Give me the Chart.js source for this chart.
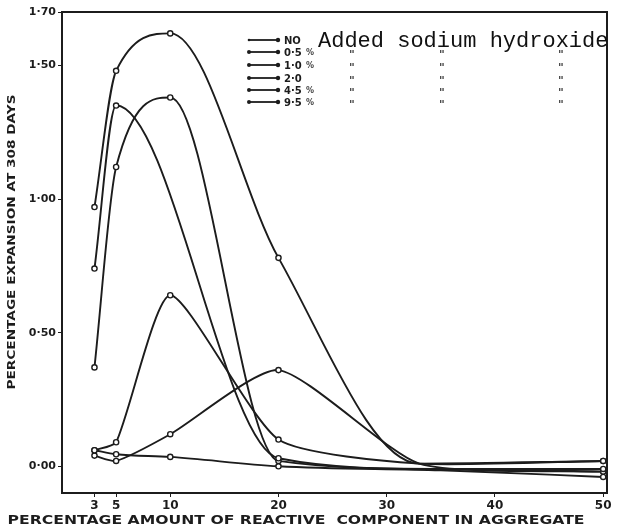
<!DOCTYPE html>
<html>
<head>
<meta charset="utf-8">
<script src="https://cdn.jsdelivr.net/npm/chart.js@4"></script>
<style>
html, body { margin: 0; padding: 0; background: #fff; }
#wrap { width: 622px; height: 530px; }
</style>
</head>
<body>
<div id="wrap"><canvas id="chart" width="622" height="530"></canvas></div>
<script>
// values
const xTicks = [3, 5, 10, 20, 30, 40, 50];
const yTicks = [0, 0.5, 1.0, 1.5, 1.7];
const yTickLabels = ['0·00', '0·50', '1·00', '1·50', '1·70'];
const measuredX = [3, 5, 10, 20, 50];

const seriesNames = ['NO', '0·5', '1·0', '2·0', '4·5', '9·5'];

const xNone = [3, 5, 10, 20, 35, 50];
const yNone = [0.06, 0.045, 0.035, 0.0, -0.015, -0.04];

const xHalf = [3, 5, 10, 20, 33, 50];
const yHalf = [0.06, 0.09, 0.64, 0.10, 0.01, 0.02];

const xOne = [3, 5, 20, 35, 50];
const yOne = [0.74, 1.35, 0.03, -0.01, -0.01];

const xTwo = [3, 5, 10, 20, 35, 50];
const yTwo = [0.37, 1.12, 1.38, 0.02, -0.01, -0.02];

const xFour = [3, 5, 10, 20, 33, 50];
const yFour = [0.97, 1.48, 1.62, 0.78, 0.01, 0.02];

const xNine = [3, 5, 10, 20, 33, 50];
const yNine = [0.04, 0.02, 0.12, 0.36, 0.01, -0.02];

const ink = '#1c1c1c';

function pts(xs, ys) {
    return xs.map((x, i) => ({ x: x, y: ys[i] }));
}

function series(label, xs, ys, smooth) {
    return {
        label: label,
        data: pts(xs, ys),
        borderColor: ink,
        borderWidth: 1.9,
        backgroundColor: '#fff',
        pointBackgroundColor: '#fff',
        pointBorderColor: ink,
        pointBorderWidth: 1.4,
        pointRadius: ctx => measuredX.includes(ctx.raw.x) ? 2.6 : 0,
        tension: smooth ? 0.4 : 0.2,
        cubicInterpolationMode: smooth ? 'monotone' : 'default',
        fill: false
    };
}

function fitText(ctx, text, x, y, width, font, rot) {
    ctx.save();
    ctx.font = font;
    ctx.translate(x, y);
    if (rot) ctx.rotate(rot);
    const w = ctx.measureText(text).width;
    ctx.scale(width / w, 1);
    ctx.textAlign = 'center';
    ctx.textBaseline = 'middle';
    ctx.fillText(text, 0, 0);
    ctx.restore();
}

const paperPlugin = {
    id: 'paper',
    afterDraw(chart) {
        const ctx = chart.ctx;
        const a = chart.chartArea;
        ctx.save();
        ctx.strokeStyle = ink;
        ctx.fillStyle = ink;
        ctx.lineWidth = 2;
        ctx.strokeRect(a.left, a.top, a.right - a.left, a.bottom - a.top);

        // axis titles
        fitText(ctx, 'PERCENTAGE AMOUNT OF REACTIVE  COMPONENT IN AGGREGATE', 296, 521, 577, 'bold 12px "DejaVu Sans"');
        fitText(ctx, 'PERCENTAGE EXPANSION AT 308 DAYS', 12, 242, 295, 'bold 10px "DejaVu Sans"', -Math.PI / 2);

        // legend key
        const rows = [40, 52, 65, 78, 90, 102];
        ctx.lineWidth = 1.8;
        rows.forEach((y, i) => {
            ctx.beginPath();
            ctx.moveTo(249, y);
            ctx.lineTo(278, y);
            ctx.stroke();
            ctx.beginPath();
            ctx.arc(249, y, i === 0 ? 1.3 : 2, 0, Math.PI * 2);
            ctx.fill();
            ctx.beginPath();
            ctx.arc(278, y, 2.2, 0, Math.PI * 2);
            ctx.fill();
            ctx.font = 'bold 10px "DejaVu Sans"';
            ctx.textAlign = 'left';
            ctx.textBaseline = 'middle';
            ctx.fillText(seriesNames[i], 284, y + 1);
            if (i > 0) {
                ctx.fillStyle = '#444';
                ctx.font = 'bold 8px "DejaVu Sans"';
                if (i !== 3) ctx.fillText('%', 306, y + 1);
                ctx.font = 'bold 11px "DejaVu Sans"';
                [349, 439, 558].forEach(cx => ctx.fillText('"', cx, y + 3));
                ctx.fillStyle = ink;
            }
        });
        ctx.font = '22px "Liberation Mono"';
        ctx.textAlign = 'left';
        ctx.textBaseline = 'alphabetic';
        ctx.fillStyle = '#111';
        ctx.fillText('Added sodium hydroxide', 318, 47);
        ctx.restore();
    }
};

new Chart(document.getElementById('chart'), {
    type: 'line',
    data: {
        datasets: [
            series(seriesNames[0], xNone, yNone, true),
            series(seriesNames[1], xHalf, yHalf, false),
            series(seriesNames[2], xOne, yOne, true),
            series(seriesNames[3], xTwo, yTwo, true),
            series(seriesNames[4], xFour, yFour, true),
            series(seriesNames[5], xNine, yNine, false)
        ]
    },
    options: {
        responsive: false,
        animation: false,
        layout: { padding: { left: 0, right: 15, top: 12, bottom: 0 } },
        plugins: { legend: { display: false }, tooltip: { enabled: false } },
        scales: {
            x: {
                type: 'linear',
                min: 0,
                max: 50.35,
                afterBuildTicks: scale => { scale.ticks = xTicks.map(v => ({ value: v })); },
                afterFit: scale => { scale.height = 37; },
                grid: { drawOnChartArea: false, tickLength: 4, color: ink },
                border: { display: false },
                ticks: { color: ink, padding: 2, maxRotation: 0, autoSkip: false, font: { family: 'DejaVu Sans', weight: 'bold', size: 12 } }
            },
            y: {
                type: 'linear',
                min: -0.1,
                max: 1.7,
                afterBuildTicks: scale => { scale.ticks = yTicks.map(v => ({ value: v })); },
                afterFit: scale => { scale.width = 62; },
                grid: { drawOnChartArea: false, tickLength: 4, color: ink },
                border: { display: false },
                ticks: {
                    color: ink, padding: 2, autoSkip: false,
                    font: { family: 'DejaVu Sans', weight: 'bold', size: 11 },
                    callback: v => yTickLabels[yTicks.indexOf(v)]
                }
            }
        }
    },
    plugins: [paperPlugin]
});
</script>
</body>
</html>
